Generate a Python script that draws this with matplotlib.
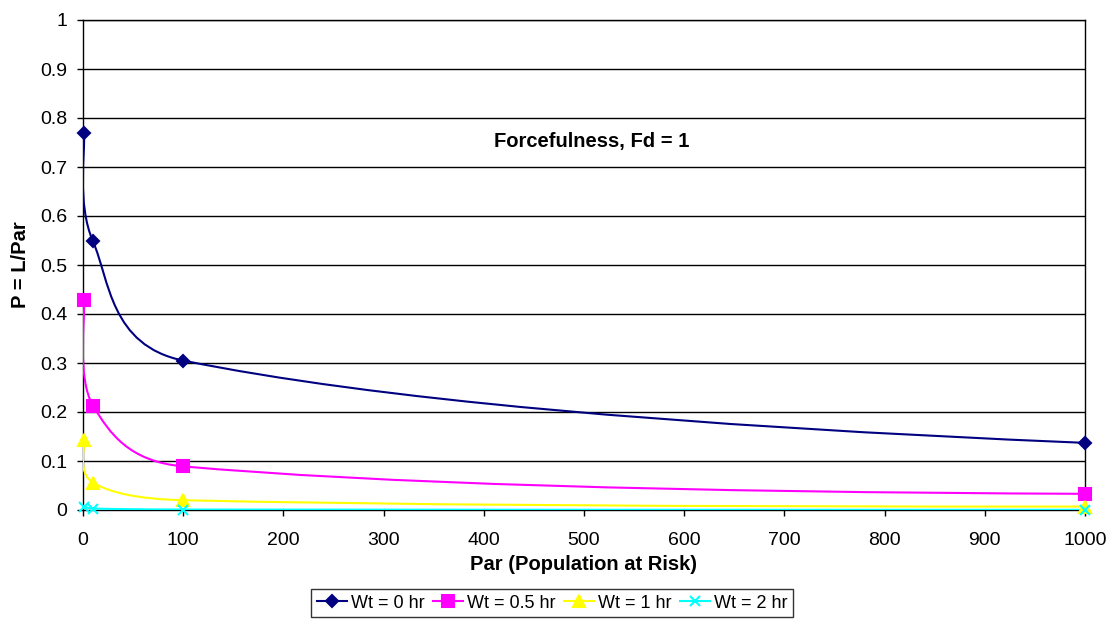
import numpy as np
import matplotlib
matplotlib.use('Agg')
from matplotlib import pyplot as plt
from matplotlib.path import Path
from matplotlib.patches import PathPatch
from matplotlib.lines import Line2D

plt.rcParams.update({'font.family': ['Liberation Sans', 'DejaVu Sans'], 'font.size': 14})

# data
par = [1, 10, 100, 1000]
p_wt0 = [0.769, 0.548, 0.305, 0.137]
p_wt05 = [0.429, 0.213, 0.089, 0.033]
p_wt1 = [0.143, 0.056, 0.020, 0.007]
p_wt2 = [0.007, 0.003, 0.001, 0.0004]

labels = ['Wt = 0 hr', 'Wt = 0.5 hr', 'Wt = 1 hr', 'Wt = 2 hr']
colors = ['#000080', '#FF00FF', '#FFFF00', '#00FFFF']
markers = ['D', 's', '^', 'x']
msizes = [6, 8, 8, 7]
series = [p_wt0, p_wt05, p_wt1, p_wt2]

yticks = [0, 0.1, 0.2, 0.3, 0.4, 0.5, 0.6, 0.7, 0.8, 0.9, 1]
ytick_labels = ['0', '0.1', '0.2', '0.3', '0.4', '0.5', '0.6', '0.7', '0.8', '0.9', '1']
xticks = list(range(0, 1001, 100))

fig = plt.figure(figsize=(11.11, 6.19), dpi=100)
ax = fig.add_axes([83 / 1111, 109 / 619, 1002 / 1111, 490 / 619])
ax.set_xlim(0, 1000)
ax.set_ylim(0, 1)


def arm(p0, p1, p2, f=1 / 6):
    # length factor for a control arm, kept under half the segment length
    d02 = np.hypot(*(p2 - p0))
    d12 = np.hypot(*(p2 - p1))
    if d02 > 0 and d02 * f > d12 / 2:
        return d12 / (2 * d02)
    return f


def smooth_path(xs, ys):
    # Excel-like smoothed line, built in screen space
    pts = ax.transData.transform(np.column_stack([xs, ys]))
    n = len(pts)
    verts = [pts[0]]
    codes = [Path.MOVETO]
    for i in range(n - 1):
        p0 = pts[max(i - 1, 0)]
        p1 = pts[i]
        p2 = pts[i + 1]
        if i == n - 2 and n > 2:
            # last segment: flatter finish, as in the reference
            c = p1 + 1.7 * arm(p0, p1, p2) * (p2 - p0)
            verts += [c, p2]
            codes += [Path.CURVE3] * 2
        else:
            p3 = pts[min(i + 2, n - 1)]
            c1 = p1 + arm(p0, p1, p2) * (p2 - p0)
            c2 = p2 - arm(p3, p2, p1) * (p3 - p1)
            verts += [c1, c2, p2]
            codes += [Path.CURVE4] * 3
    verts = ax.transData.inverted().transform(np.array(verts))
    return Path(verts, codes)


handles = []
for ys, lab, c, m, ms in zip(series, labels, colors, markers, msizes):
    patch = PathPatch(smooth_path(par, ys), facecolor='none', edgecolor=c, lw=1.5,
                      zorder=3, transform=ax.transData)
    ax.add_patch(patch)
    patch.set_clip_path(ax.patch)
    ax.plot(par, ys, ls='none', marker=m, color=c, ms=ms, mew=1.5, zorder=4, clip_on=False)
    handles.append(Line2D([], [], color=c, lw=1.5, marker=m, ms=ms, mew=1.5, label=lab))

ax.set_yticks(yticks)
ax.set_yticklabels(ytick_labels)
ax.set_xticks(xticks)
ax.tick_params(axis='both', direction='out', length=4.5, width=1, color='black')
ax.tick_params(axis='x', pad=11)
ax.tick_params(axis='y', pad=7)
for y in yticks[1:]:
    ax.axhline(y, color='black', lw=1, zorder=1)
for s in ax.spines.values():
    s.set_color('black')
    s.set_linewidth(1)

ax.set_xlabel('Par (Population at Risk)', fontweight='bold', fontsize=14.5, labelpad=5)
ax.set_ylabel('P = L/Par', fontweight='bold', fontsize=14.5, labelpad=7)
ax.text(508, 0.752, 'Forcefulness, Fd = 1', ha='center', va='center', fontweight='bold', fontsize=14.5)

leg = fig.legend(handles=handles, loc='center', bbox_to_anchor=(552 / 1111, 16 / 619), ncol=4,
                 frameon=True, fancybox=False, edgecolor='black', fontsize=13, handlelength=1.7,
                 handletextpad=0.2, columnspacing=0.45, borderpad=0.3, borderaxespad=0)
leg.get_frame().set_linewidth(1)

plt.savefig('out.png', dpi=100)
